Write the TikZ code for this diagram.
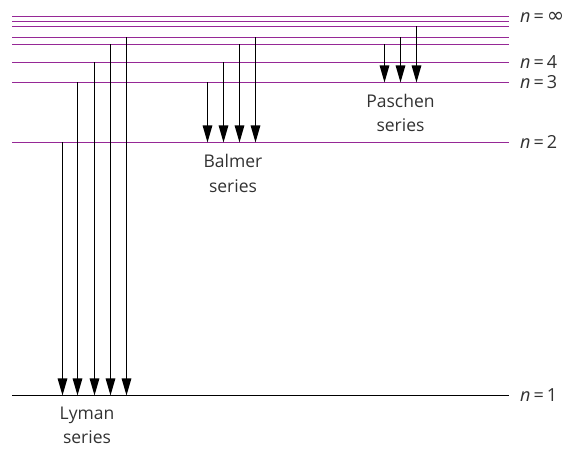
\documentclass[tikz,border=0pt]{standalone}
\usepackage{fontspec}
\setmainfont{Open Sans}
\newfontfamily\symfont{DejaVu Sans}
\usetikzlibrary{arrows.meta}
\definecolor{levelpurple}{RGB}{150,40,150}
\definecolor{textgray}{RGB}{50,50,50}
\begin{document}
\begin{tikzpicture}[x=1pt,y=-1pt,
  level/.style={draw=levelpurple, line width=0.9pt},
  ground/.style={draw=black, line width=0.9pt},
  transition/.style={draw=black, line width=1.2pt, -{Triangle[length=17pt,width=9.5pt]}},
  serieslbl/.style={text=textgray, font=\fontsize{17.5}{24.5}\selectfont, align=center, inner sep=0pt},
  nlabel/.style={anchor=base west, text=textgray, font=\fontsize{18}{18}\selectfont, inner sep=0pt}]
\useasboundingbox (0,0) rectangle (574,449);

% energy levels: left and right ends
\foreach \k/\y in {inf/16.5, 8/21.5, 7/26.5, 6/37.5, 5/44.5, 4/62.5, 3/82.5, 2/142.5, 1/395.5} {
  \coordinate (L\k) at (12,\y);
  \coordinate (R\k) at (509,\y);
}
\foreach \k in {inf,8,7,6,5,4,3,2} \draw[level] (L\k) -- (R\k);
\draw[ground] (L1) -- (R1);

% level labels
\node[nlabel] (lblinf) at (520,22.5) {\textit{n}\,=\,{\symfont\fontsize{21}{21}\selectfont ∞}};
\node[nlabel] (lbl4) at (520,68.6) {\textit{n}\,=\,4};
\node[nlabel] (lbl3) at (520,88.8) {\textit{n}\,=\,3};
\node[nlabel] (lbl2) at (520,148.8) {\textit{n}\,=\,2};
\node[nlabel] (lbl1) at (520,401.6) {\textit{n}\,=\,1};

% Lyman series: transitions down to n = 1
\coordinate (ly2) at (62.5,142.5);
\coordinate (ly3) at (77.5,82.5);
\coordinate (ly4) at (94.5,62.5);
\coordinate (ly5) at (110.5,44.5);
\coordinate (ly6) at (126.5,37.5);
\foreach \k in {2,3,4,5,6} \draw[transition] (ly\k) -- (ly\k |- L1);

% Balmer series: transitions down to n = 2
\coordinate (ba3) at (207.5,82.5);
\coordinate (ba4) at (223.5,62.5);
\coordinate (ba5) at (239.5,44.5);
\coordinate (ba6) at (255.5,37.5);
\foreach \k in {3,4,5,6} \draw[transition] (ba\k) -- (ba\k |- L2);

% Paschen series: transitions down to n = 3
\coordinate (pa5) at (384.5,44.5);
\coordinate (pa6) at (400.5,37.5);
\coordinate (pa7) at (416.5,26.5);
\foreach \k in {5,6,7} \draw[transition] (pa\k) -- (pa\k |- L3);

% series names
\node[serieslbl] (lyman) at (87,425.5) {Lyman\\series};
\node[serieslbl] (balmer) at (233,173.5) {Balmer\\series};
\node[serieslbl] (paschen) at (400.5,113) {Paschen\\series};
\end{tikzpicture}
\end{document}
